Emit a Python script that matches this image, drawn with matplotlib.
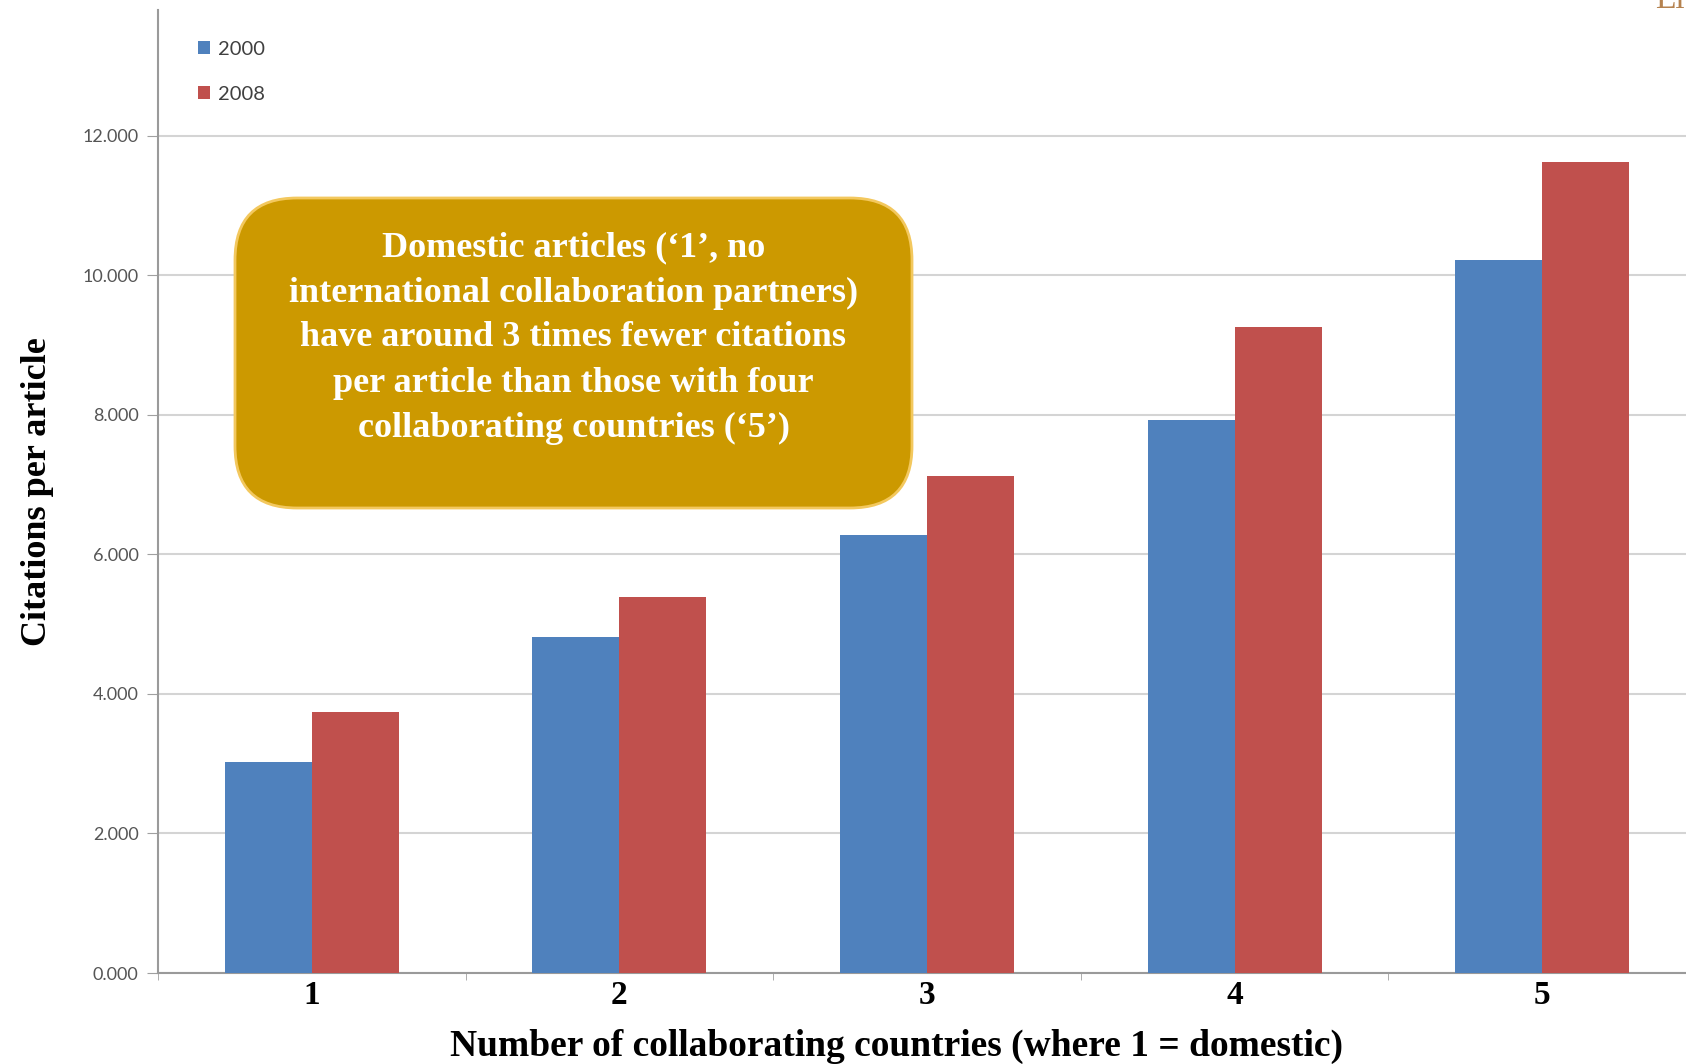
import matplotlib
matplotlib.use("Agg")
import matplotlib.pyplot as plt
from matplotlib.patches import FancyBboxPatch
from matplotlib.transforms import IdentityTransform
import numpy as np

categories = ["1", "2", "3", "4", "5"]
series_names = ["2000", "2008"]
cites_2000 = [3.02, 4.82, 6.27, 7.92, 10.22]
cites_2008 = [3.74, 5.39, 7.12, 9.26, 11.62]
ytick_vals = [0, 2, 4, 6, 8, 10, 12]
ytick_labels = ["0.000", "2.000", "4.000", "6.000", "8.000", "10.000", "12.000"]

note = ("Domestic articles (\u20181\u2019, no\n"
        "international collaboration partners)\n"
        "have around 3 times fewer citations\n"
        "per article than those with four\n"
        "collaborating countries (\u20185\u2019)")

W, H = 1686, 1064
fig = plt.figure(figsize=(W / 100, H / 100), dpi=100)
fig.patch.set_facecolor("white")

# axes placed in pixel terms, right end runs slightly past the figure edge
left, right, bottom, top = 158, 1696, 973, 10
ax = fig.add_axes([left / W, (H - bottom) / H, (right - left) / W, (bottom - top) / H])

x = np.arange(1, len(categories) + 1)
bw = 0.283
ax.bar(x - bw / 2, cites_2000, bw, color="#4F81BD", label=series_names[0], zorder=3)
ax.bar(x + bw / 2, cites_2008, bw, color="#C0504D", label=series_names[1], zorder=3)

ax.set_xlim(0.5, len(categories) + 0.5)
ax.set_ylim(0, 13.8)
ax.set_yticks(ytick_vals)
ax.set_yticklabels(ytick_labels, fontfamily="Lato", fontsize=13, color="#555555")
ax.set_xticks(x)
ax.set_xticklabels(categories, fontfamily="Liberation Serif", fontweight="bold",
                   fontsize=24, color="black")
ax.set_xticks(np.arange(0.5, len(categories) + 1), minor=True)
ax.tick_params(axis="x", which="major", length=0, pad=5)
ax.tick_params(axis="x", which="minor", length=5, color="#A0A0A0", direction="out")
ax.tick_params(axis="y", length=8, color="#A0A0A0", pad=6)

ax.grid(axis="y", color="#D4D4D4", linewidth=1.5, zorder=0)
for s in ["top", "right"]:
    ax.spines[s].set_visible(False)
for s in ["left", "bottom"]:
    ax.spines[s].set_color("#9A9A9A")
    ax.spines[s].set_linewidth(1.5)

ax.set_xlabel("Number of collaborating countries (where 1 = domestic)",
              fontfamily="Liberation Serif", fontweight="bold", fontsize=27, labelpad=13)
ax.xaxis.label.set_x(0.48)
ax.set_ylabel("Citations per article", fontfamily="Liberation Serif",
              fontweight="bold", fontsize=26)
ax.yaxis.set_label_coords(-0.0675, 0.5)

leg = ax.legend(loc="upper left", bbox_to_anchor=(0.014, 0.987), frameon=False,
                handlelength=0.6, handleheight=0.6, handletextpad=0.4,
                labelspacing=1.4, prop={"family": "Lato", "size": 14.5})
for t in leg.get_texts():
    t.set_color("#404040")

# callout box, pixel coordinates
bx0, bx1, by0, by1 = 235, 912, 198, 508
box = FancyBboxPatch((bx0, H - by1), bx1 - bx0, by1 - by0,
                     boxstyle="round,pad=0,rounding_size=62",
                     transform=IdentityTransform(), facecolor="#CC9900",
                     edgecolor="#F3C85E", linewidth=2, zorder=5)
fig.patches.append(box)
fig.text((bx0 + bx1) / 2 / W, 1 - 338 / H, note, ha="center", va="center",
         color="white", fontfamily="Liberation Serif", fontweight="bold",
         fontsize=26, linespacing=1.48, zorder=6)

# cut-off title fragment at the top right
fig.text(1655 / W, 1.0, "El", color="#B5824F", fontfamily="Liberation Serif",
         fontsize=24, ha="left", va="center")

fig.savefig("out.png", dpi=100, facecolor="white")
